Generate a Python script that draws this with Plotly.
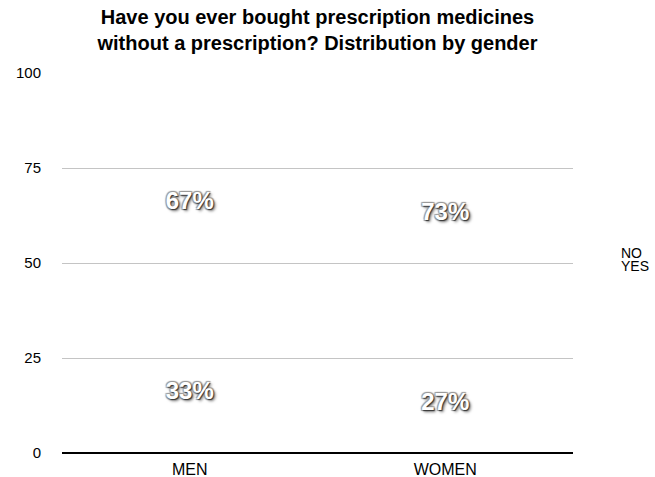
import plotly.graph_objects as go

categories = ["MEN", "WOMEN"]
yes_values = [33, 27]
no_values = [67, 73]
yes_labels = ["33%", "27%"]
no_labels = ["67%", "73%"]
series_names = ["NO", "YES"]

font_family = "Liberation Sans, Arial, sans-serif"
label_font = dict(family=font_family, size=24, color="white", weight="bold",
                  shadow="1px 1px 1px #333, -1px -1px 1px #999, 1px -1px 1px #999, -1px 1px 1px #999, 2px 2px 3px #777")
clear = "rgba(255,255,255,0)"

fig = go.Figure()
fig.add_trace(go.Bar(x=categories, y=yes_values, name="YES", text=yes_labels,
                     textposition="inside", insidetextanchor="middle",
                     textfont=label_font, marker=dict(color=clear, line=dict(width=0)),
                     showlegend=False, hoverinfo="skip"))
fig.add_trace(go.Bar(x=categories, y=no_values, name="NO", text=no_labels,
                     textposition="inside", insidetextanchor="middle",
                     textfont=label_font, marker=dict(color=clear, line=dict(width=0)),
                     showlegend=False, hoverinfo="skip"))

# legend entries (tight spacing as in reference)
for name, ypos in zip(series_names, [0.526, 0.492]):
    fig.add_annotation(text=name, xref="paper", yref="paper", x=1.09, y=ypos,
                       xanchor="left", yanchor="middle", showarrow=False,
                       font=dict(size=14, color="black", family=font_family))

fig.update_layout(
    width=655, height=477,
    barmode="stack",
    bargap=0.4,
    paper_bgcolor="white", plot_bgcolor="white",
    margin=dict(l=62, r=82, t=73, b=24),
    font=dict(family=font_family, size=15, color="#222"),
    title=dict(text="<b>Have you ever bought prescription medicines<br>without a prescription? Distribution by gender</b>",
               x=0.5, xref="paper", xanchor="center", y=0.95, yanchor="top",
               font=dict(size=20, color="black", family=font_family)),
    showlegend=False,
    xaxis=dict(showgrid=False, showline=False, ticks="", ticklabelstandoff=5,
               automargin=False, tickfont=dict(size=16, color="black")),
    yaxis=dict(range=[0, 100], tickvals=[0, 25, 50, 75, 100], showgrid=True,
               gridcolor="#c4c4c4", gridwidth=1, zeroline=True, zerolinecolor="black",
               zerolinewidth=1.5, ticks="", ticklabelstandoff=20, automargin=False,
               tickfont=dict(size=15, color="black")),
)

fig.write_html("out.html")
